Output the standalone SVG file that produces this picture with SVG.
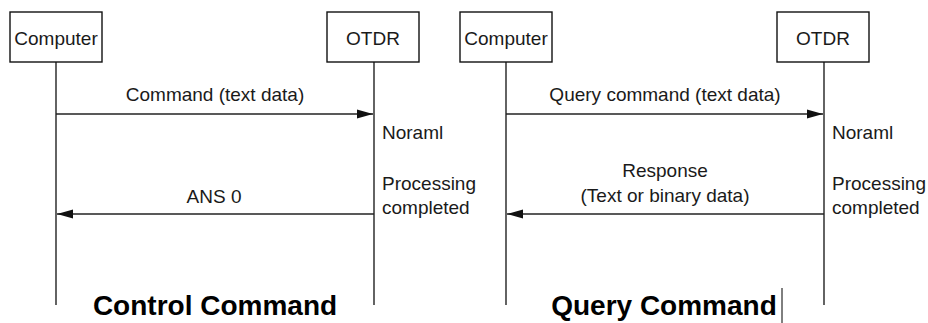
<svg xmlns="http://www.w3.org/2000/svg" width="928" height="323" viewBox="0 0 928 323">
<defs>
<marker id="ah" markerWidth="16" markerHeight="10" refX="16" refY="5" orient="auto" markerUnits="userSpaceOnUse">
<path d="M0,0.5 L16,5 L0,9.5 Z" fill="#111"/>
</marker>
</defs>
<style>
.box{fill:#fff;stroke:#111;stroke-width:1.4}
.life{stroke:#222;stroke-width:1.4;fill:none}
.msg{stroke:#222;stroke-width:1.6;fill:none;marker-end:url(#ah)}
text{font-family:"Liberation Sans",Arial,sans-serif;font-size:19px;fill:#1a1a1a}
.c{text-anchor:middle}
.title{font-size:28px;font-weight:bold;fill:#000}
</style>
<rect width="928" height="323" fill="#fff"/>
<g id="connectors">
<line class="life" x1="56" y1="62" x2="56" y2="305"/>
<line class="life" x1="374" y1="62" x2="374" y2="305"/>
<line class="life" x1="506" y1="62" x2="506" y2="305"/>
<line class="life" x1="824" y1="62" x2="824" y2="305"/>
<line class="msg" x1="56" y1="114" x2="373" y2="114"/>
<line class="msg" x1="374" y1="214" x2="57" y2="214"/>
<line class="msg" x1="506" y1="114" x2="823" y2="114"/>
<line class="msg" x1="824" y1="214" x2="507" y2="214"/>
</g>
<g id="computer1"><rect class="box" x="10" y="12" width="92" height="50"/><text class="c" x="56" y="45">Computer</text></g>
<g id="otdr1"><rect class="box" x="327" y="12" width="92" height="50"/><text class="c" x="373" y="45">OTDR</text></g>
<g id="computer2"><rect class="box" x="460" y="12" width="92" height="50"/><text class="c" x="506" y="45">Computer</text></g>
<g id="otdr2"><rect class="box" x="777" y="12" width="92" height="50"/><text class="c" x="823" y="45">OTDR</text></g>
<g id="labels">
<text class="c" x="215" y="101">Command (text data)</text>
<text class="c" x="665" y="101">Query command (text data)</text>
<text x="382" y="139">Noraml</text>
<text x="832" y="139">Noraml</text>
<text x="382" y="190">Processing</text>
<text x="382" y="214">completed</text>
<text x="832" y="190">Processing</text>
<text x="832" y="214">completed</text>
<text class="c" x="214" y="203">ANS 0</text>
<text class="c" x="665" y="177">Response</text>
<text class="c" x="665" y="202">(Text or binary data)</text>
<text class="c title" x="215" y="315">Control Command</text>
<text class="c title" x="664" y="315">Query Command</text>
<line x1="782" y1="288" x2="782" y2="323" stroke="#000" stroke-width="1"/>
</g>
</svg>
